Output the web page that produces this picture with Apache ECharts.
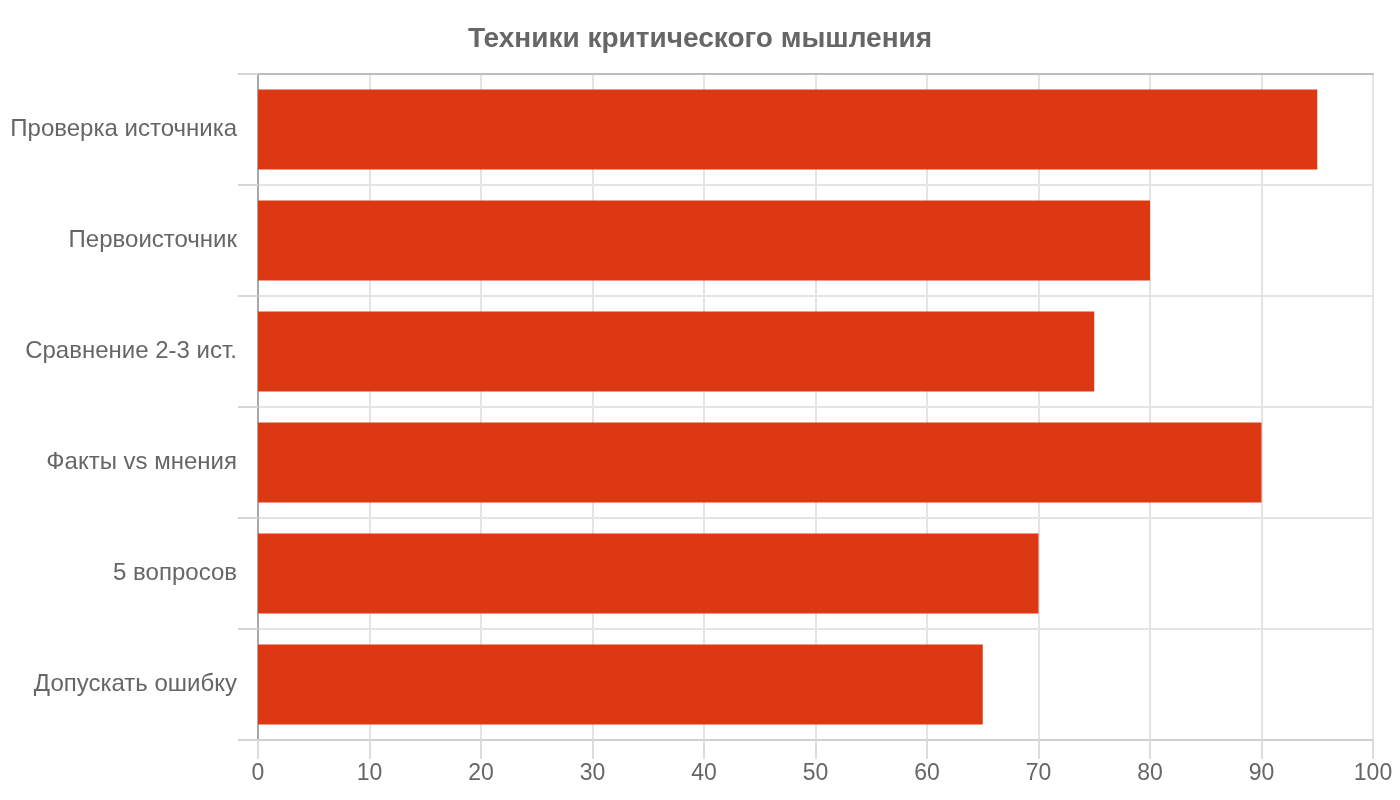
<!DOCTYPE html>
<html lang="ru">
<head>
    <meta charset="UTF-8">
    <title>Техники критического мышления</title>
    <script src="https://cdn.jsdelivr.net/npm/echarts@6/dist/echarts.min.js"></script>
    <style>
        body { margin: 0; }
        #chart { width: 1400px; height: 800px; }
    </style>
</head>
<body>
    <div id="chart"></div>
    <script>
        var categories = ['Проверка источника', 'Первоисточник', 'Сравнение 2-3 ист.', 'Факты vs мнения', '5 вопросов', 'Допускать ошибку'];
        var values = [95, 80, 75, 90, 70, 65];

        var chart = echarts.init(document.getElementById('chart'));
        var font = '"Liberation Sans", Arial, sans-serif';

        chart.setOption({
            textStyle: { fontFamily: font },
            title: {
                text: 'Техники критического мышления',
                left: 'center',
                top: 20,
                textStyle: { fontFamily: font, fontSize: 28, fontWeight: 'bold', color: '#666' }
            },
            grid: { left: 258, right: 27, top: 74, bottom: 60 },
            xAxis: [{
                type: 'value',
                min: 0,
                max: 100,
                interval: 10,
                axisLine: { show: true, lineStyle: { color: '#d0d0d0', width: 2 } },
                axisTick: { show: true, length: 19, lineStyle: { color: '#dcdcdc', width: 2 } },
                axisLabel: { fontSize: 23, color: '#666', margin: 22, fontFamily: font },
                splitLine: { lineStyle: { color: '#e4e4e4', width: 2 } }
            }, {
                type: 'value',
                position: 'top',
                min: 0,
                max: 100,
                axisLine: { show: true, lineStyle: { color: '#bdbdbd', width: 2 } },
                axisTick: { show: false },
                axisLabel: { show: false },
                splitLine: { show: false }
            }],
            yAxis: {
                type: 'category',
                inverse: true,
                data: categories,
                axisLine: { show: true, lineStyle: { color: '#a8a8a8', width: 2 } },
                axisTick: { show: true, length: 20, lineStyle: { color: '#d6d6d6', width: 2 } },
                axisLabel: { fontSize: 24, color: '#666', margin: 21, fontFamily: font },
                splitLine: { show: true, lineStyle: { color: '#e4e4e4', width: 2 } }
            },
            series: [{
                type: 'bar',
                data: values,
                barWidth: 80,
                itemStyle: { color: '#dc3912' },
                silent: true
            }]
        });
    </script>
</body>
</html>
